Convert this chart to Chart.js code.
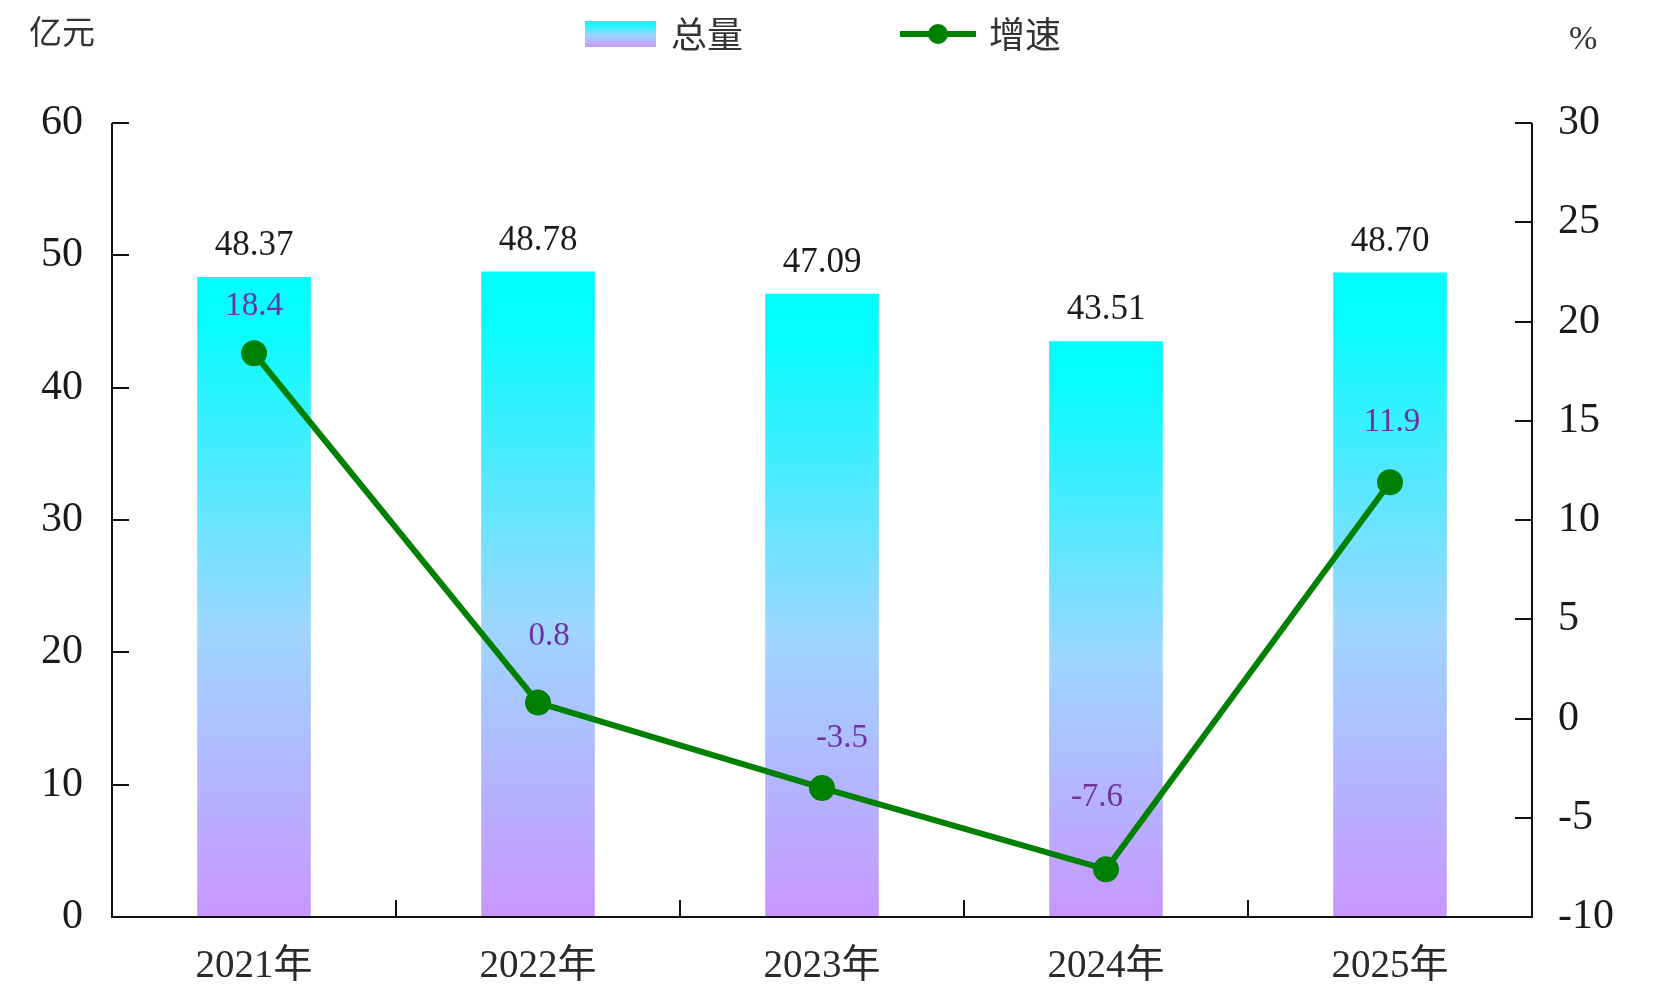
<!DOCTYPE html>
<html>
<head>
<meta charset="utf-8">
<script src="https://cdn.jsdelivr.net/npm/chart.js@4"></script>
<style>
  html, body { margin: 0; padding: 0; background: #fff; }
  canvas { display: block; }
</style>
</head>
<body>
<canvas id="chart" width="1660" height="1005"></canvas>
<script>
// data
const years = ['2021年', '2022年', '2023年', '2024年', '2025年'];
const total = [48.37, 48.78, 47.09, 43.51, 48.70];
const growth = [18.4, 0.8, -3.5, -7.6, 11.9];
const totalLabels = ['48.37', '48.78', '47.09', '43.51', '48.70'];
const growthLabels = ['18.4', '0.8', '-3.5', '-7.6', '11.9'];

// small nudges for the growth labels (dx, dy in px from the point)
const growthNudge = [[0, -47], [11, -66], [20, -50], [-9, -72], [2, -60]];

const SERIF = '"Liberation Serif", "Noto Sans CJK SC", serif';
const CJK = '"Noto Sans CJK SC", sans-serif';
const GREEN = '#008000';
const PURPLE = '#7030A0';

function barGradient(ctx, top, bottom) {
	const g = ctx.createLinearGradient(0, top, 0, bottom);
	g.addColorStop(0, '#00FFFF');
	g.addColorStop(0.08, '#08FCFF');
	g.addColorStop(0.55, '#9ED6FF');
	g.addColorStop(1, '#C897FF');
	return g;
}

// axes with inward ticks, drawn from the chart's own scales
const axesPlugin = {
	id: 'axes',
	afterDatasetsDraw(chart) {
		const {ctx, chartArea: a, scales} = chart;
		const tick = 17;
		ctx.save();
		ctx.strokeStyle = '#111';
		ctx.lineWidth = 2;
		ctx.beginPath();
		ctx.moveTo(a.left, a.top);
		ctx.lineTo(a.left, a.bottom);
		ctx.lineTo(a.right, a.bottom);
		ctx.lineTo(a.right, a.top);
		ctx.stroke();

		ctx.beginPath();
		scales.y.ticks.forEach(t => {
			const y = Math.round(scales.y.getPixelForValue(t.value));
			if (t.value === 0) return;
			ctx.moveTo(a.left, y);
			ctx.lineTo(a.left + tick, y);
		});
		scales.y1.ticks.forEach(t => {
			const y = Math.round(scales.y1.getPixelForValue(t.value));
			if (t.value === -10) return;
			ctx.moveTo(a.right, y);
			ctx.lineTo(a.right - tick, y);
		});
		for (let i = 0; i < years.length - 1; i++) {
			const x = Math.round((scales.x.getPixelForValue(i) + scales.x.getPixelForValue(i + 1)) / 2);
			ctx.moveTo(x, a.bottom);
			ctx.lineTo(x, a.bottom - tick);
		}
		ctx.stroke();
		ctx.restore();
	}
};

const labelsPlugin = {
	id: 'valueLabels',
	afterDraw(chart) {
		const {ctx} = chart;
		ctx.save();
		ctx.textAlign = 'center';
		ctx.textBaseline = 'middle';

		ctx.font = '35px ' + SERIF;
		ctx.fillStyle = '#1a1a1a';
		chart.getDatasetMeta(0).data.forEach((bar, i) => {
			ctx.fillText(totalLabels[i], bar.x, bar.y - 31);
		});

		ctx.font = '33px ' + SERIF;
		ctx.fillStyle = PURPLE;
		chart.getDatasetMeta(1).data.forEach((pt, i) => {
			ctx.fillText(growthLabels[i], pt.x + growthNudge[i][0], pt.y + growthNudge[i][1]);
		});

		// unit labels
		ctx.fillStyle = '#333';
		ctx.textAlign = 'left';
		ctx.font = '33px ' + CJK;
		ctx.fillText('亿元', 29, 31);
		ctx.font = '34px ' + SERIF;
		ctx.fillText('%', 1569, 40);

		// legend
		ctx.fillStyle = barGradient(ctx, 21, 47);
		ctx.fillRect(585, 21, 71, 26);
		ctx.fillStyle = '#333';
		ctx.font = '36px ' + CJK;
		ctx.fillText('总量', 671, 34);

		ctx.strokeStyle = GREEN;
		ctx.lineWidth = 6;
		ctx.beginPath();
		ctx.moveTo(900, 34);
		ctx.lineTo(976, 34);
		ctx.stroke();
		ctx.fillStyle = GREEN;
		ctx.beginPath();
		ctx.arc(938, 34, 10, 0, Math.PI * 2);
		ctx.fill();
		ctx.fillStyle = '#333';
		ctx.fillText('增速', 989, 34);
		ctx.restore();
	}
};

new Chart(document.getElementById('chart'), {
	data: {
		labels: years,
		datasets: [
			{
				type: 'bar',
				label: '总量',
				data: total,
				yAxisID: 'y',
				order: 1,
				barPercentage: 0.4,
				categoryPercentage: 1,
				backgroundColor: function (c) {
					const chart = c.chart;
					if (!chart.chartArea || c.raw === undefined) return '#66CCFF';
					const ys = chart.scales.y;
					return barGradient(chart.ctx, ys.getPixelForValue(c.raw), ys.getPixelForValue(0));
				}
			},
			{
				type: 'line',
				label: '增速',
				data: growth,
				yAxisID: 'y1',
				order: 0,
				borderColor: GREEN,
				backgroundColor: GREEN,
				borderWidth: 6,
				pointRadius: 10,
				pointHoverRadius: 10,
				tension: 0
			}
		]
	},
	options: {
		responsive: false,
		animation: false,
		layout: {padding: {top: 123, left: 0, right: 0, bottom: 0}},
		plugins: {
			legend: {display: false},
			tooltip: {enabled: false}
		},
		scales: {
			x: {
				offset: true,
				grid: {display: false},
				border: {display: false},
				ticks: {
					color: '#2a2a2a',
					font: {family: SERIF, size: 39},
					padding: 18
				},
				afterFit(scale) { scale.height = 88; }
			},
			y: {
				position: 'left',
				min: 0,
				max: 60,
				grid: {display: false},
				border: {display: false},
				ticks: {
					stepSize: 10,
					color: '#1a1a1a',
					font: {family: SERIF, size: 42},
					padding: 21
				},
				afterFit(scale) { scale.width = 112; }
			},
			y1: {
				position: 'right',
				min: -10,
				max: 30,
				grid: {display: false},
				border: {display: false},
				ticks: {
					stepSize: 5,
					color: '#1a1a1a',
					font: {family: SERIF, size: 42},
					padding: 18
				},
				afterFit(scale) { scale.width = 128; }
			}
		}
	},
	plugins: [axesPlugin, labelsPlugin]
});
</script>
</body>
</html>
